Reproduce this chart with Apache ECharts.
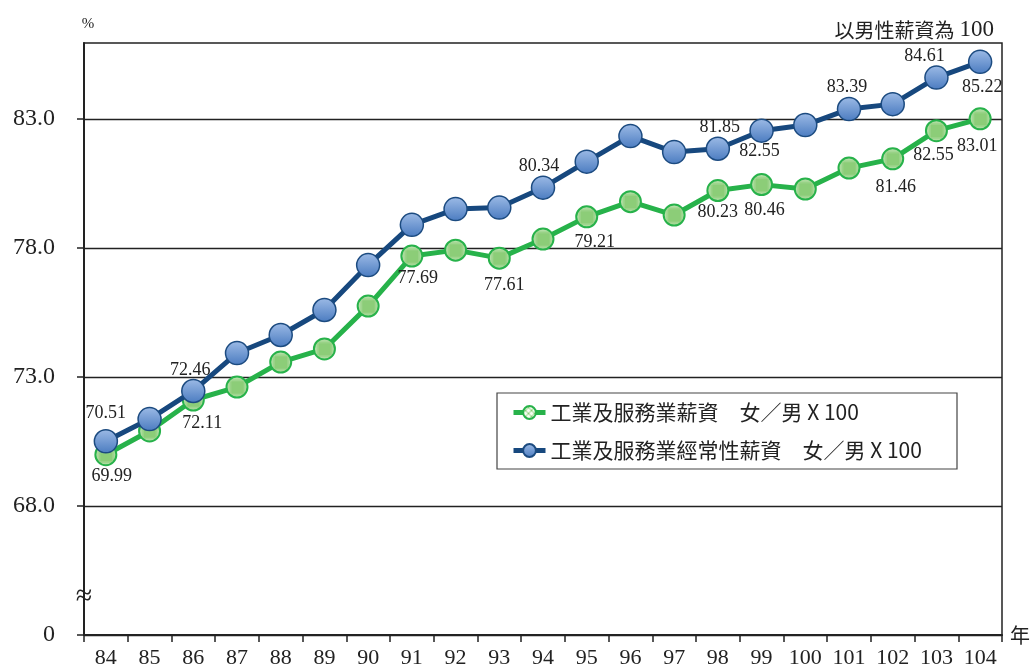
<!DOCTYPE html>
<html>
<head>
<meta charset="utf-8">
<script src="https://cdn.jsdelivr.net/npm/echarts@6/dist/echarts.min.js"></script>
<style>
html,body{margin:0;padding:0;background:#fff;}
#c{width:1034px;height:670px;}
</style>
</head>
<body>
<div id="c"></div>
<script>
// ---- data ----
const years = ['84','85','86','87','88','89','90','91','92','93','94','95','96','97','98','99','100','101','102','103','104'];
const wageRatio = [69.99, 70.91, 72.11, 72.61, 73.58, 74.09, 75.75, 77.69, 77.92, 77.61, 78.35, 79.21, 79.80, 79.28, 80.23, 80.46, 80.29, 81.10, 81.46, 82.55, 83.01];
const regularWageRatio = [70.51, 71.37, 72.46, 73.93, 74.63, 75.60, 77.34, 78.90, 79.51, 79.57, 80.34, 81.35, 82.34, 81.72, 81.85, 82.55, 82.77, 83.39, 83.58, 84.61, 85.22];
const yTicks = [63, 68, 73, 78, 83];
const yTickLabels = ['0', '68.0', '73.0', '78.0', '83.0'];
const seriesNames = ['工業及服務業薪資　女／男 X 100', '工業及服務業經常性薪資　女／男 X 100'];
const unitNote = '以男性薪資為';
const unitBase = '100';

// ---- label placement (style, not data) ----
const greenLabelOffsets = {0:[6,22], 2:[9,23], 7:[6,22], 9:[5,27], 11:[8,25], 14:[0,22], 15:[3,26], 18:[3,28], 19:[-3,25], 20:[-3,27]};
const blueLabelOffsets = {0:[0,-28], 2:[-3,-21], 10:[-4,-21], 14:[2,-21], 15:[-2,21], 17:[-2,-22], 19:[-12,-21], 20:[2,25]};

function withLabels(values, offsets) {
  return values.map((v, i) => offsets[i]
    ? { value: v, label: { show: true, position: 'inside', offset: offsets[i] } }
    : v);
}

// green cross-hatch pattern
const pc = document.createElement('canvas');
pc.width = 6; pc.height = 6;
const g = pc.getContext('2d');
g.fillStyle = '#f6fcf2'; g.fillRect(0, 0, 6, 6);
g.fillStyle = '#8ccd78';
for (let i = 0; i < 6; i++) { g.fillRect(i, i, 1, 1); g.fillRect(5 - i, i, 1, 1); }

const serif = 'Liberation Serif';
const cjk = 'Noto Sans CJK TC';
const dark = '#222';

const chart = echarts.init(document.getElementById('c'), null, {renderer: 'canvas'});
chart.setOption({
  animation: false,
  backgroundColor: '#fff',
  title: {
    text: '{a|' + unitNote + '} {b|' + unitBase + '}',
    right: 35, top: 12,
    textStyle: {
      fontWeight: 'normal',
      rich: {
        a: { fontFamily: cjk, fontSize: 20, fontWeight: 'normal', color: dark, lineHeight: 26 },
        b: { fontFamily: serif, fontSize: 23, fontWeight: 'normal', color: dark, lineHeight: 26 }
      }
    }
  },
  grid: { left: 84, right: 32, top: 43, bottom: 35, show: true, borderColor: dark, borderWidth: 1.5, backgroundColor: 'transparent' },
  legend: {
    orient: 'vertical', left: 511, top: 401, padding: 0, z: 10,
    itemWidth: 32, itemHeight: 16, itemGap: 15,
    lineStyle: { width: 5 },
    textStyle: { fontFamily: cjk, fontSize: 21, color: dark, lineHeight: 23 },
    data: seriesNames
  },
  graphic: [
    { type: 'rect', z: 5, shape: { x: 497, y: 393, width: 460, height: 76 }, style: { fill: '#fff', stroke: '#444', lineWidth: 1.2 } },
    { type: 'text', z: 20, x: 84, y: 597, style: { text: '≈', font: '30px Liberation Serif', fill: dark, textAlign: 'center', textVerticalAlign: 'middle' } }
  ],
  xAxis: {
    type: 'category', data: years, boundaryGap: true,
    name: '年', nameLocation: 'end', nameGap: 8,
    nameTextStyle: { fontFamily: cjk, fontSize: 20, color: dark },
    axisLine: { lineStyle: { color: dark, width: 2 } },
    axisTick: { show: true, length: 7, lineStyle: { color: dark, width: 1.5 } },
    axisLabel: { interval: 0, fontFamily: serif, fontSize: 22, color: dark, margin: 12 },
    splitLine: { show: false }
  },
  yAxis: {
    type: 'value', min: 63, max: 85.95,
    name: '%', nameLocation: 'end', nameGap: 11,
    nameTextStyle: { fontFamily: serif, fontSize: 15, color: dark, padding: [0, 0, 0, 8] },
    axisLine: { show: true, lineStyle: { color: dark, width: 2 } },
    axisTick: { show: true, customValues: yTicks, length: 7, lineStyle: { color: dark, width: 1.5 } },
    axisLabel: {
      customValues: yTicks,
      formatter: v => { const i = yTicks.indexOf(v); return i >= 0 ? yTickLabels[i] : ''; },
      fontFamily: serif, fontSize: 24, color: dark, margin: 29
    },
    splitLine: { show: true, lineStyle: { color: dark, width: 1.3 } }
  },
  series: [
    {
      name: seriesNames[0], type: 'line', z: 3,
      data: withLabels(wageRatio, greenLabelOffsets),
      symbol: 'circle', symbolSize: 21,
      lineStyle: { color: '#27b24a', width: 5 },
      itemStyle: { color: { image: pc, repeat: 'repeat' }, borderColor: '#27b24a', borderWidth: 2 },
      label: { show: false, fontFamily: serif, fontSize: 18, color: dark, formatter: p => p.value.toFixed(2) },
      emphasis: { disabled: true }
    },
    {
      name: seriesNames[1], type: 'line', z: 4,
      data: withLabels(regularWageRatio, blueLabelOffsets),
      symbol: 'circle', symbolSize: 23,
      lineStyle: { color: '#17487e', width: 5 },
      itemStyle: {
        color: new echarts.graphic.LinearGradient(0, 0, 0, 1, [
          { offset: 0, color: '#9dbbe6' }, { offset: 1, color: '#4a7bc0' }
        ]),
        borderColor: '#1c4b80', borderWidth: 1.5
      },
      label: { show: false, fontFamily: serif, fontSize: 18, color: dark, formatter: p => p.value.toFixed(2) },
      emphasis: { disabled: true }
    }
  ]
});
</script>
</body>
</html>
